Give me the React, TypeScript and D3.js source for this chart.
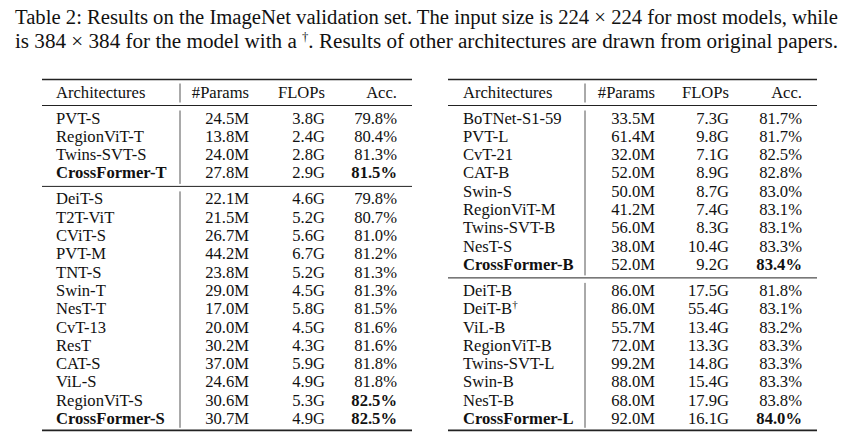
import React from "react";
import * as d3 from "d3";

const captionLine1 =
  "Table 2: Results on the ImageNet validation set. The input size is 224 × 224 for most models, while";
const captionLine2a = "is 384 × 384 for the model with a ";
const captionDagger = "†";
const captionLine2b = ". Results of other architectures are drawn from original papers.";

const headers = ["Architectures", "#Params", "FLOPs", "Acc."];

// Left table, group 1
const leftG1Arch = ["PVT-S", "RegionViT-T", "Twins-SVT-S", "CrossFormer-T"];
const leftG1Params = ["24.5M", "13.8M", "24.0M", "27.8M"];
const leftG1Flops = ["3.8G", "2.4G", "2.8G", "2.9G"];
const leftG1Acc = ["79.8%", "80.4%", "81.3%", "81.5%"];
const leftG1BoldArch = [3];
const leftG1BoldAcc = [3];

// Left table, group 2
const leftG2Arch = [
  "DeiT-S", "T2T-ViT", "CViT-S", "PVT-M", "TNT-S", "Swin-T", "NesT-T",
  "CvT-13", "ResT", "CAT-S", "ViL-S", "RegionViT-S", "CrossFormer-S",
];
const leftG2Params = [
  "22.1M", "21.5M", "26.7M", "44.2M", "23.8M", "29.0M", "17.0M",
  "20.0M", "30.2M", "37.0M", "24.6M", "30.6M", "30.7M",
];
const leftG2Flops = [
  "4.6G", "5.2G", "5.6G", "6.7G", "5.2G", "4.5G", "5.8G",
  "4.5G", "4.3G", "5.9G", "4.9G", "5.3G", "4.9G",
];
const leftG2Acc = [
  "79.8%", "80.7%", "81.0%", "81.2%", "81.3%", "81.3%", "81.5%",
  "81.6%", "81.6%", "81.8%", "81.8%", "82.5%", "82.5%",
];
const leftG2BoldArch = [12];
const leftG2BoldAcc = [11, 12];

// Right table, group 1
const rightG1Arch = [
  "BoTNet-S1-59", "PVT-L", "CvT-21", "CAT-B", "Swin-S", "RegionViT-M",
  "Twins-SVT-B", "NesT-S", "CrossFormer-B",
];
const rightG1Params = [
  "33.5M", "61.4M", "32.0M", "52.0M", "50.0M", "41.2M", "56.0M", "38.0M", "52.0M",
];
const rightG1Flops = [
  "7.3G", "9.8G", "7.1G", "8.9G", "8.7G", "7.4G", "8.3G", "10.4G", "9.2G",
];
const rightG1Acc = [
  "81.7%", "81.7%", "82.5%", "82.8%", "83.0%", "83.1%", "83.1%", "83.3%", "83.4%",
];
const rightG1BoldArch = [8];
const rightG1BoldAcc = [8];

// Right table, group 2
const rightG2Arch = [
  "DeiT-B", "DeiT-B†", "ViL-B", "RegionViT-B", "Twins-SVT-L", "Swin-B",
  "NesT-B", "CrossFormer-L",
];
const rightG2Params = [
  "86.0M", "86.0M", "55.7M", "72.0M", "99.2M", "88.0M", "68.0M", "92.0M",
];
const rightG2Flops = [
  "17.5G", "55.4G", "13.4G", "13.3G", "14.8G", "15.4G", "17.9G", "16.1G",
];
const rightG2Acc = [
  "81.8%", "83.1%", "83.2%", "83.3%", "83.3%", "83.3%", "83.8%", "84.0%",
];
const rightG2BoldArch = [7];
const rightG2BoldAcc = [7];

type Group = {
  arch: string[];
  params: string[];
  flops: string[];
  acc: string[];
  boldArch: number[];
  boldAcc: number[];
};

const leftGroups: Group[] = [
  { arch: leftG1Arch, params: leftG1Params, flops: leftG1Flops, acc: leftG1Acc, boldArch: leftG1BoldArch, boldAcc: leftG1BoldAcc },
  { arch: leftG2Arch, params: leftG2Params, flops: leftG2Flops, acc: leftG2Acc, boldArch: leftG2BoldArch, boldAcc: leftG2BoldAcc },
];
const rightGroups: Group[] = [
  { arch: rightG1Arch, params: rightG1Params, flops: rightG1Flops, acc: rightG1Acc, boldArch: rightG1BoldArch, boldAcc: rightG1BoldAcc },
  { arch: rightG2Arch, params: rightG2Params, flops: rightG2Flops, acc: rightG2Acc, boldArch: rightG2BoldArch, boldAcc: rightG2BoldAcc },
];

const FONT = "'Liberation Serif', 'Times New Roman', serif";
const FS = 16.6;
const PITCH = 18.3;
const INK = "#111";

function ArchLabel({ text, x, y, bold }: { text: string; x: number; y: number; bold: boolean }) {
  const hasDagger = text.endsWith("†");
  const base = hasDagger ? text.slice(0, -1) : text;
  return (
    <text x={x} y={y} fontWeight={bold ? "bold" : "normal"}>
      {base}
      {hasDagger && (
        <tspan dy={-6} fontSize={11}>
          †
        </tspan>
      )}
    </text>
  );
}

function Table({
  x0, x1, colX, groups,
}: {
  x0: number; x1: number; colX: number[]; groups: Group[];
}) {
  const topRule = 79.5;
  const headerBase = 97.5;
  const headerRule = 105.5;
  const elements: React.ReactNode[] = [];
  const vSegs: [number, number][] = [[topRule + 4, headerRule - 3]];
  let ruleY = headerRule;
  groups.forEach((g, gi) => {
    const first = ruleY + 18;
    const n = g.arch.length;
    const y = d3.scaleLinear().domain([0, n - 1]).range([first, first + (n - 1) * PITCH]);
    const last = y(n - 1);
    const isLast = gi === groups.length - 1;
    const nextRule = isLast ? last + 6.3 : last + 8;
    vSegs.push([ruleY + 5, nextRule - 2.5]);
    g.arch.forEach((a, i) => {
      const yy = y(i);
      elements.push(
        <g key={`g${gi}r${i}`}>
          <ArchLabel text={a} x={colX[0]} y={yy} bold={g.boldArch.includes(i)} />
          <text x={colX[1]} y={yy} textAnchor="end">{g.params[i]}</text>
          <text x={colX[2]} y={yy} textAnchor="end">{g.flops[i]}</text>
          <text x={colX[3]} y={yy} textAnchor="end" fontWeight={g.boldAcc.includes(i) ? "bold" : "normal"}>
            {g.acc[i]}
          </text>
        </g>
      );
    });
    elements.push(
      <line
        key={`rule${gi}`}
        x1={x0}
        x2={x1}
        y1={nextRule}
        y2={nextRule}
        stroke="#222"
        strokeWidth={isLast ? 1.7 : 1}
      />
    );
    ruleY = nextRule;
  });

  return (
    <g fontFamily={FONT} fontSize={FS} fill={INK}>
      <line x1={x0} x2={x1} y1={topRule} y2={topRule} stroke="#222" strokeWidth={1.7} />
      <line x1={x0} x2={x1} y1={headerRule} y2={headerRule} stroke="#222" strokeWidth={1} />
      {vSegs.map(([a, b], i) => (
        <line key={`v${i}`} x1={colX[4]} x2={colX[4]} y1={a} y2={b} stroke="#555" strokeWidth={1} />
      ))}
      <text x={colX[0]} y={headerBase}>{headers[0]}</text>
      <text x={colX[1]} y={headerBase} textAnchor="end">{headers[1]}</text>
      <text x={colX[2]} y={headerBase} textAnchor="end">{headers[2]}</text>
      <text x={colX[3]} y={headerBase} textAnchor="end">{headers[3]}</text>
      {elements}
    </g>
  );
}

export default function App() {
  return (
    <svg
      width={865}
      height={436}
      viewBox="0 0 865 436"
      style={{ position: "absolute", left: 0, top: 0, background: "#fff" }}
    >
      <rect x={0} y={0} width={865} height={436} fill="#fff" />
      <g fontFamily={FONT} fontSize={20} fill={INK}>
        <text x={15} y={24} textLength={823} lengthAdjust="spacingAndGlyphs">
          {captionLine1}
        </text>
        <text x={15} y={48} textLength={823} lengthAdjust="spacingAndGlyphs">
          {captionLine2a}
          <tspan dy={-7} fontSize={12}>{captionDagger}</tspan>
          <tspan dy={7}>{captionLine2b}</tspan>
        </text>
      </g>
      <Table x0={42} x1={412} colX={[56, 249, 325, 397, 180]} groups={leftGroups} />
      <Table x0={448} x1={817} colX={[463, 655, 729, 802, 585]} groups={rightGroups} />
    </svg>
  );
}
